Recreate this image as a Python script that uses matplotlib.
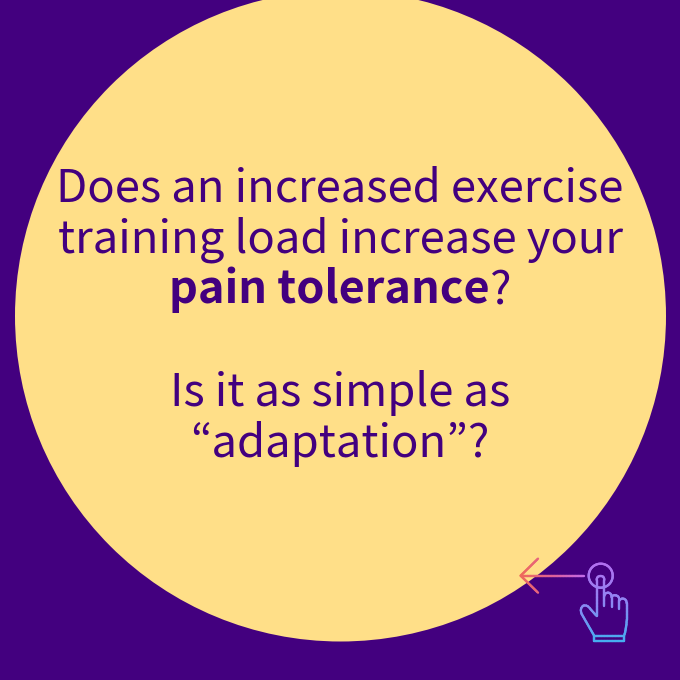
import numpy as np
import matplotlib
matplotlib.use("Agg")
import matplotlib.pyplot as plt
from matplotlib.patches import Circle
from matplotlib.path import Path
from matplotlib.collections import LineCollection
from matplotlib.colors import LinearSegmentedColormap
from matplotlib.offsetbox import HPacker, TextArea, AnnotationBbox

BG = "#43007f"
CIRCLE = "#ffdf88"
TEXT = "#43007f"
FONT = "Noto Sans CJK JP"
SIZE = 32.7

lines_regular = ["Does an increased exercise", "training load increase your", "Is it as simple as", "\u201cadaptation\u201d?"]
line_y = [188, 240, 393, 444]
bold_part = "pain tolerance"
tail_part = "?"

fig = plt.figure(figsize=(6.8, 6.8), dpi=100, facecolor=BG)
ax = fig.add_axes([0, 0, 1, 1])
ax.set_xlim(0, 680)
ax.set_ylim(680, 0)
ax.axis("off")
ax.add_patch(Circle((340.5, 316), 325.5, fc=CIRCLE, ec="none"))

for s, y in zip(lines_regular, line_y):
    ax.text(340, y, s, ha="center", va="center", fontsize=SIZE, color=TEXT, family=FONT)

pack = HPacker(children=[
    TextArea(bold_part, textprops=dict(fontsize=SIZE - 0.3, color=TEXT, family=FONT, fontweight="bold")),
    TextArea(tail_part, textprops=dict(fontsize=SIZE, color=TEXT, family=FONT)),
], pad=0, sep=0, align="baseline")
ax.add_artist(AnnotationBbox(pack, (340, 290), frameon=False, box_alignment=(0.5, 0.5), pad=0))


def z(x, y):
    """Convert crop coordinates of the icon to figure pixels."""
    return (500 + x / 3, 540 + y / 3)


M, L, C = Path.MOVETO, Path.LINETO, Path.CURVE3
hand = [
    (M, 290, 228), (L, 290, 120), (C, 290, 108), (C, 302, 108), (C, 313, 108), (C, 313, 120),
    (L, 313, 198), (M, 313, 168), (C, 314, 158), (C, 325, 158), (C, 335, 160), (C, 335, 172),
    (L, 335, 202), (M, 335, 172), (C, 337, 164), (C, 347, 166), (C, 358, 168), (C, 358, 180),
    (L, 358, 206), (M, 358, 182), (C, 362, 174), (C, 370, 176), (C, 380, 178), (C, 380, 190),
    (L, 380, 240), (C, 380, 265), (C, 372, 288), (L, 283, 288), (L, 245, 222),
    (C, 238, 205), (C, 250, 197), (C, 262, 193), (C, 272, 208), (L, 290, 228),
    (M, 283, 288), (L, 283, 303), (L, 372, 303), (L, 372, 288),
]
codes = [h[0] for h in hand]
verts = [z(h[1], h[2]) for h in hand]


def gradient_lines(path, cmap, axis, lo, hi, lw):
    segs, vals = [], []
    for poly in path.to_polygons(closed_only=False):
        for a, b in zip(poly[:-1], poly[1:]):
            n = max(1, int(np.hypot(*(b - a)) / 1.5))
            ts = np.linspace(0, 1, n + 1)
            pts = a + np.outer(ts, b - a)
            segs.extend(np.stack([pts[:-1], pts[1:]], axis=1))
            vals.extend((pts[:-1, axis] + pts[1:, axis]) / 2)
    lc = LineCollection(segs, cmap=cmap, linewidths=lw, capstyle="round", zorder=4)
    lc.set_array(np.array(vals))
    lc.set_clim(lo, hi)
    ax.add_collection(lc)


arrow_cmap = LinearSegmentedColormap.from_list("arrow", ["#ee6a5c", "#e0609a", "#c26cec"])
hand_cmap = LinearSegmentedColormap.from_list("hand", ["#b26ff0", "#8f86f2", "#45aef0"])

arrow_path = Path(
    [z(252, 107), z(62, 107), z(114, 56), z(62, 107), z(114, 158)],
    [M, L, M, L, L],
)
gradient_lines(arrow_path, arrow_cmap, 0, 521, 584, 1.7)

theta = np.radians(np.arange(0, 361, 5))
ring_path = Path(np.column_stack([600.7 + 12 * np.cos(theta), 575.7 + 12 * np.sin(theta)]))
gradient_lines(ring_path, hand_cmap, 1, 563, 642, 1.7)
gradient_lines(Path(verts, codes), hand_cmap, 1, 563, 642, 1.7)

fig.savefig("out.png", dpi=100, facecolor=BG)
